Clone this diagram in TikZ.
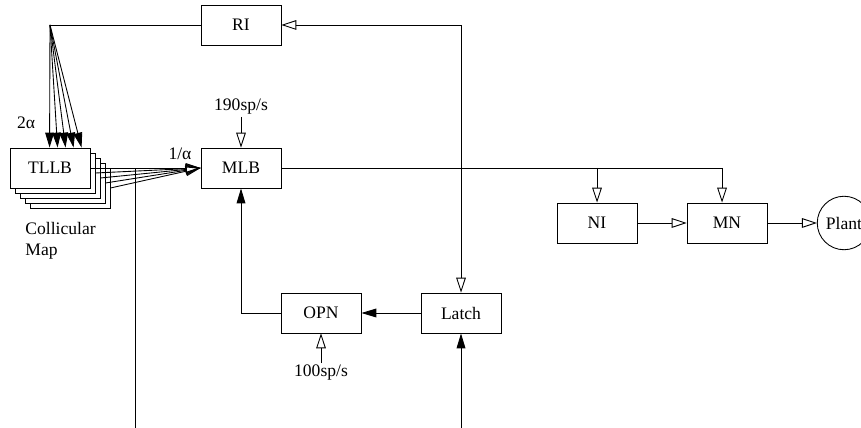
\documentclass[tikz,border=0pt]{standalone}
\usepackage{fontspec}
\setmainfont{Liberation Serif}
\usepackage{tikz}
\usetikzlibrary{arrows.meta, positioning, calc}

\begin{document}
\begin{tikzpicture}[x=0.02cm, y=-0.02cm, line width=0.5pt,
    caja/.style={draw, fill=white, minimum width=1.6cm, minimum height=0.8cm, inner sep=0pt},
    abierta/.style={-{Triangle[open, length=8.5pt, width=5.5pt]}},
    llena/.style={-{Triangle[length=8.5pt, width=5pt]}},
    etq/.style={inner sep=1pt}]
  \useasboundingbox (0,0) rectangle (861,428);

  % Bloques principales
  \node[caja] (RI) at (241,25) {RI};
  \node[caja] (MLB) at (241,168) {MLB};
  \node[caja] (NI) at (597,223) {NI};
  \node[caja] (MN) at (727,223) {MN};
  \node[caja] (OPN) at (321,313) {OPN};
  \node[caja] (Latch) at (461,313) {Latch};
  \node[draw, circle, minimum size=1.07cm, inner sep=0pt] (Plant) at (844,223) {Plant};

  % Pila del mapa colicular
  \foreach \k in {4,3,2,1}
    \node[caja] (tllb\k) at (50+5*\k,168+5*\k) {};
  \node[caja] (tllb) at (50,168) {TLLB};
  \node[anchor=west, align=left, inner sep=0pt] (mapa) at (25,241) {Collicular\\Map};

  % Entradas de tasa fija
  \node[etq] (s190) at (241,107) {190sp/s};
  \node[etq] (s100) at (321,373) {100sp/s};
  \draw[abierta] (s190.south) -- (MLB.north);
  \draw[abierta] (s100.north) -- (OPN.south);

  % RI hacia la pila
  \coordinate (ritop) at (50,25);
  \draw (RI.west) -- (ritop);
  \foreach \k in {0,...,4}
    \draw[llena] (ritop) -- ($(tllb.north west)+(40+8*\k,0)$);
  \node[etq] (dosalfa) at (26,123) {2α};

  % Pila hacia MLB
  \draw[abierta] (tllb.east) -- (MLB.west);
  \foreach \k in {1,...,4}
    \draw[abierta] (tllb\k.east) -- (MLB.west);
  \node[etq] (unoalfa) at (180,154) {1/α};

  % Salida de MLB
  \coordinate (mnin) at ($(MN.north)+(-5,0)$);
  \draw (MLB.east) -- (mnin |- MLB.east);
  \draw[abierta] (NI.north |- MLB.east) -- (NI.north);
  \draw[abierta] (mnin |- MLB.east) -- (mnin);
  \draw[abierta] (NI.east) -- (MN.west);
  \draw[abierta] (MN.east) -- (Plant.west);

  % Lazo Latch / OPN / RI
  \draw[{Triangle[open, length=8.5pt, width=5.5pt]}-{Triangle[open, length=8.5pt, width=5.5pt]}]
    (RI.east) -| (Latch.north);
  \draw[llena] (Latch.west) -- (OPN.east);
  \draw[llena] (OPN.west) -| (MLB.south);

  % Entradas desde abajo
  \coordinate (abajo1) at (135,428);
  \coordinate (abajo2) at (461,428);
  \draw (abajo1) -- (abajo1 |- MLB.west);
  \draw[llena] (abajo2) -- (Latch.south);
\end{tikzpicture}
\end{document}
